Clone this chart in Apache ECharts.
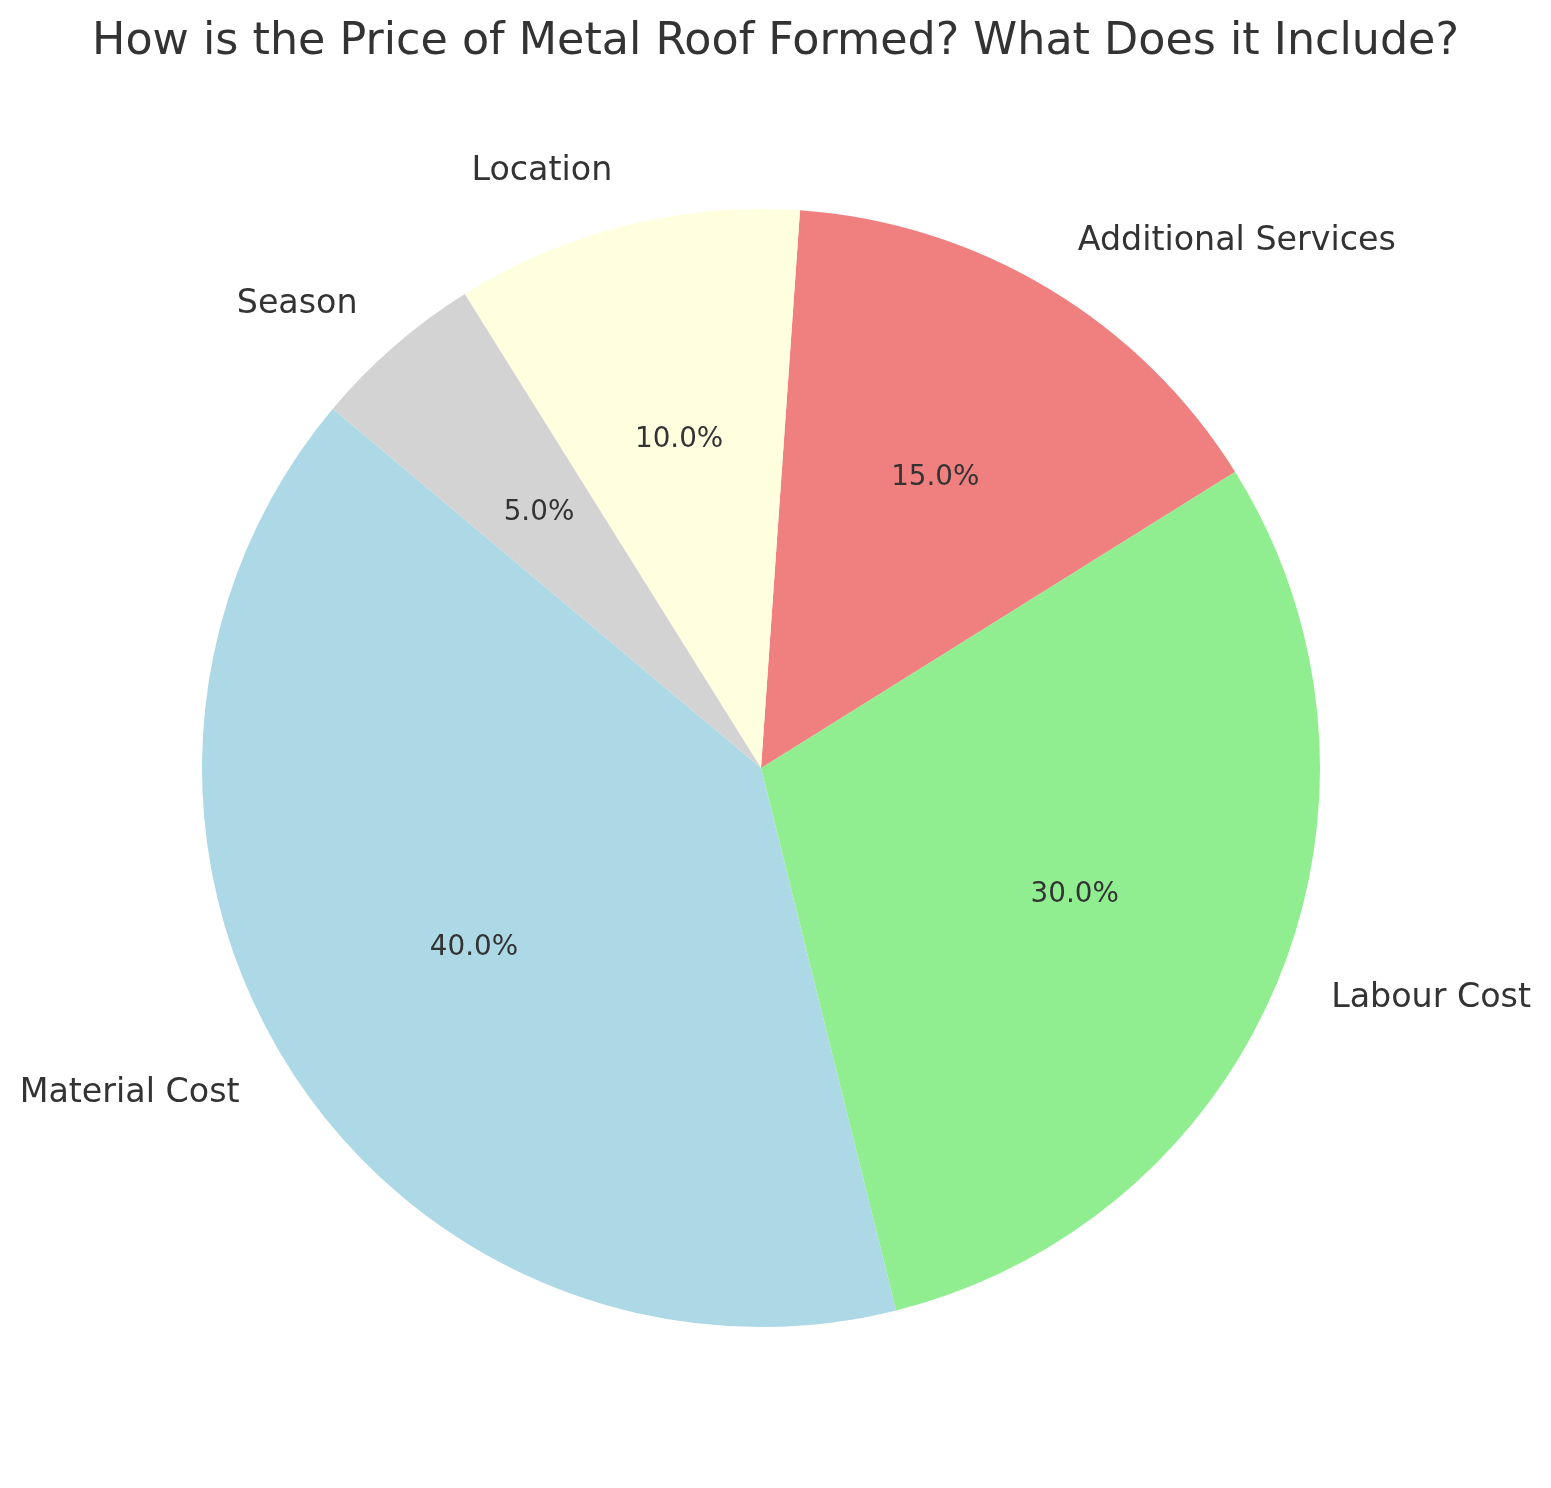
<!DOCTYPE html>
<html>
<head>
<meta charset="utf-8">
<script src="https://cdn.jsdelivr.net/npm/echarts@6/dist/echarts.min.js"></script>
<style>
  html, body { margin: 0; padding: 0; background: #fff; }
  #chart { width: 1551px; height: 1488px; }
</style>
</head>
<body>
<div id="chart"></div>
<script>
const categories = ['Material Cost', 'Labour Cost', 'Additional Services', 'Location', 'Season']
const shares = [40, 30, 15, 10, 5]
const colors = ['#ADD8E6', '#90EE90', '#F08080', '#FFFFE0', '#D3D3D3']

const center = [761, 768]
const R = 559
const font = 'DejaVu Sans'

const chart = echarts.init(document.getElementById('chart'))

const pieData = categories.map((name, i) => ({
  name,
  value: shares[i],
  itemStyle: { color: colors[i] }
}))

chart.setOption({
  animation: false,
  title: {
    text: 'How is the Price of Metal Roof Formed? What Does it Include?',
    left: 'center',
    top: 15,
    textStyle: { fontFamily: font, fontSize: 44.4, fontWeight: 'normal', color: '#333' }
  },
  series: [
    {
      // slices + outside category labels
      type: 'pie',
      center,
      radius: [0, R],
      startAngle: 140,
      clockwise: false,
      avoidLabelOverlap: false,
      silent: true,
      data: pieData,
      itemStyle: { borderWidth: 0 },
      label: {
        show: true,
        position: 'outside',
        formatter: '{b}',
        fontFamily: font,
        fontSize: 33.3,
        color: '#333',
        distanceToLabelLine: 0
      },
      labelLine: { show: false, length: R * 0.1, length2: 0 },
      emphasis: { disabled: true }
    },
    {
      // transparent ring only to place the percentage labels at 0.6 R
      type: 'pie',
      center,
      radius: [R * 0.2, R],
      startAngle: 140,
      clockwise: false,
      silent: true,
      data: categories.map((name, i) => ({ name, value: shares[i] })),
      itemStyle: { color: 'rgba(0,0,0,0)', borderWidth: 0 },
      label: {
        show: true,
        position: 'inside',
        formatter: (p) => p.percent.toFixed(1) + '%',
        fontFamily: font,
        fontSize: 27.8,
        color: '#333'
      },
      labelLine: { show: false },
      emphasis: { disabled: true }
    }
  ]
})
</script>
</body>
</html>
